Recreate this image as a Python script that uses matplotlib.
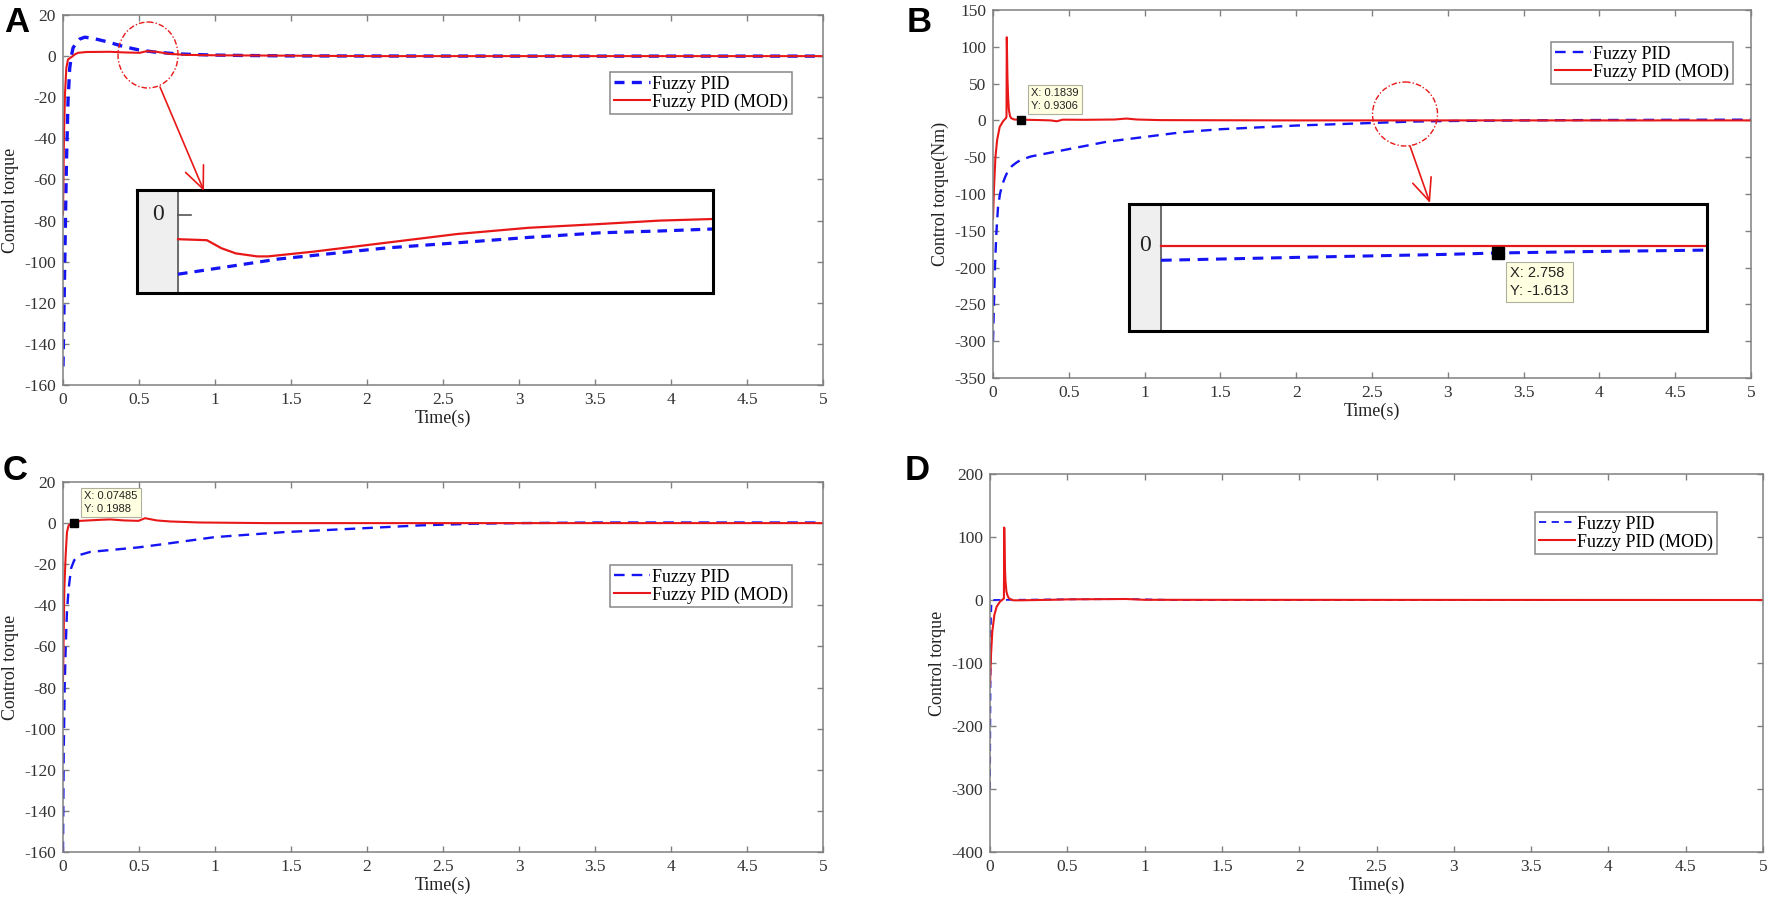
import matplotlib
matplotlib.use('Agg')
import matplotlib.pyplot as plt
from matplotlib.patches import Ellipse
from matplotlib.ticker import FuncFormatter

plt.rcParams['font.family'] = ['Liberation Serif', 'DejaVu Serif']
plt.rcParams['axes.unicode_minus'] = False

W, H = 1772, 905

# ---- data ----
time_ticks = [0, 0.5, 1, 1.5, 2, 2.5, 3, 3.5, 4, 4.5, 5]
labels = ['Fuzzy PID', 'Fuzzy PID (MOD)']

# panel A
a_t_pid = [0, 0.011, 0.022, 0.033, 0.044, 0.055, 0.066, 0.088, 0.11, 0.143, 0.2, 0.3,
           0.4, 0.5, 0.6, 0.75, 0.9, 1.0, 1.2, 1.5, 2.0, 3.0, 4.0, 5.0]
a_pid = [-151, -103, -54, -22, -6, 0, 4, 6.5, 8.3, 9.2, 8.6, 6.8,
         4.6, 3.0, 2.0, 1.1, 0.7, 0.5, 0.3, 0.1, 0.05, 0, 0, 0]
a_t_mod = [0, 0.0066, 0.013, 0.022, 0.033, 0.055, 0.077, 0.099, 0.154, 0.31, 0.4,
           0.505, 0.55, 0.615, 0.70, 0.81, 1.01, 1.5, 2.0, 5.0]
a_mod = [-77, -38, -18.6, -5.7, -1.6, -0.5, 0.8, 1.6, 2.0, 2.1, 1.8,
         1.6, 2.4, 2.1, 1.1, 0.6, 0.4, 0.2, 0, 0]
a_yticks = [-160, -140, -120, -100, -80, -60, -40, -20, 0, 20]

# zoomed view in panel A
ia_x_mod = [0, 0.054, 0.081, 0.108, 0.148, 0.168, 0.254, 0.388, 0.522, 0.655, 0.789, 0.90, 1.0]
ia_mod = [-1.21, -1.26, -1.66, -1.92, -2.07, -2.07, -1.83, -1.39, -0.95, -0.64, -0.45, -0.28, -0.2]
ia_x_pid = [0, 0.188, 0.388, 0.522, 0.655, 0.789, 0.90, 1.0]
ia_pid = [-2.96, -2.2, -1.65, -1.39, -1.12, -0.89, -0.8, -0.7]

# panel B
b_t_pid = [0, 0.007, 0.013, 0.022, 0.033, 0.046, 0.06, 0.08, 0.1, 0.125, 0.15, 0.18, 0.25,
           0.35, 0.5, 0.75, 1.0, 1.25, 1.5, 2.0, 2.5, 2.758, 3.0, 3.5, 4.0, 4.5, 5.0]
b_pid = [-300, -244, -199, -154, -118, -100, -88, -77, -68, -62, -58, -54, -49,
         -45, -39, -29, -22.5, -16, -12, -7, -3.5, -1.613, -0.8, 0, 0.5, 0.8, 1.0]
b_t_mod = [0, 0.007, 0.016, 0.027, 0.044, 0.067, 0.085, 0.089, 0.091, 0.095, 0.1, 0.105,
           0.112, 0.12, 0.14, 0.1839, 0.3, 0.38, 0.42, 0.46, 0.6, 0.8, 0.88, 0.95, 1.1,
           1.5, 2.0, 5.0]
b_mod = [-133.5, -90, -50, -27, -9, -1, 3, 5, 113, 60, 30, 14,
         6, 3, 1.2, 0.9306, 0.5, 0, -1.2, 1, 0.8, 1.2, 2.5, 1.2, 0.4,
         0.2, 0, 0]
b_yticks = [-350, -300, -250, -200, -150, -100, -50, 0, 50, 100, 150]

# zoomed view in panel B
ib_t_mod = [2.4, 2.98]
ib_mod = [0, 0]
ib_t_pid = [2.4, 2.55, 2.7, 2.758, 2.85, 2.98]
ib_pid = [-3.3, -2.6, -1.95, -1.613, -1.3, -0.95]

# panel C
c_t_pid = [0, 0.0044, 0.011, 0.0175, 0.026, 0.037, 0.053, 0.074, 0.114, 0.18, 0.354,
           0.497, 0.683, 1.0, 1.45, 2.0, 2.35, 2.7, 3.0, 3.5, 4.0, 5.0]
c_pid = [-160, -113, -80, -61, -43, -32, -22, -18, -15.4, -14, -12.8,
         -11.8, -10, -6.8, -4.4, -2.4, -1.1, -0.3, 0, 0.3, 0.3, 0.3]
c_t_mod = [0, 0.0088, 0.0175, 0.026, 0.037, 0.053, 0.07485, 0.114, 0.245, 0.31, 0.40,
           0.497, 0.54, 0.617, 0.705, 0.90, 1.34, 5.0]
c_mod = [-77, -32, -15.7, -4.4, -1.1, -0.3, 0.1988, 1.1, 1.6, 1.8, 1.3,
         1.1, 2.4, 1.3, 0.8, 0.3, 0, 0]
c_yticks = a_yticks

# panel D
d_t_pid = [0, 0.002, 0.004, 0.006, 0.01, 0.02, 0.45, 0.9, 1.2, 5.0]
d_pid = [-300, -200, -100, -30, -5, 0, 1, 1.5, 0, 0]
d_t_mod = [0, 0.0065, 0.015, 0.028, 0.043, 0.0645, 0.086, 0.09, 0.092, 0.096, 0.1,
           0.106, 0.112, 0.12, 0.13, 0.15, 0.194, 0.43, 0.5, 0.88, 1.0, 5.0]
d_mod = [-135, -87, -50, -24, -10.6, -2.6, 1.6, 2.6, 115, 55, 30,
         14, 8, 3.5, 1.6, -0.5, -0.5, 0.5, 1, 1.6, 0.3, 0]
d_yticks = [-400, -300, -200, -100, 0, 100, 200]

BLUE = '#1414f5'
RED = '#e81818'
EDGE = '#808080'

fig = plt.figure(figsize=(W / 100, H / 100), dpi=100)


def px_rect(x0, y0, x1, y1):
    return [x0 / W, 1 - y1 / H, (x1 - x0) / W, (y1 - y0) / H]


def style_axes(ax, yticks, ylabel):
    ax.set_xlim(0, 5)
    ax.set_ylim(yticks[0], yticks[-1])
    ax.set_xticks(time_ticks)
    ax.set_yticks(yticks)
    ax.xaxis.set_major_formatter(FuncFormatter(lambda v, p: f'{v:g}'))
    ax.tick_params(direction='in', top=True, right=True, length=4, width=1,
                   color=EDGE, labelcolor='#333333', labelsize=12.5, pad=5)
    for s in ax.spines.values():
        s.set_color(EDGE)
        s.set_linewidth(1.1)
    ax.set_xlabel('Time(s)', fontsize=13, labelpad=1, color='#222222')
    ax.set_ylabel(ylabel, fontsize=13, labelpad=4, color='#222222')


def add_legend(ax, x_right, y_top):
    leg = ax.legend(loc='upper right', bbox_to_anchor=(x_right / W, 1 - y_top / H),
                    bbox_transform=fig.transFigure, fontsize=13, fancybox=False,
                    edgecolor='#888888', framealpha=1, borderpad=0.2, labelspacing=0.05,
                    handlelength=2.0, handletextpad=0.15, borderaxespad=0)
    leg.get_frame().set_linewidth(1.1)


def datatip(ax, x, y, text, dx, dy, fs, va, ms=6):
    ax.plot([x], [y], marker='s', color='black', ms=ms, zorder=5)
    ax.annotate(text, (x, y), xytext=(dx, dy), textcoords='offset pixels',
                fontsize=fs, family=['Liberation Sans', 'DejaVu Sans'], color='#222222',
                ha='left', va=va, linespacing=1.35, zorder=6,
                bbox=dict(boxstyle='square,pad=0.3', fc='#ffffe1', ec='#b0b0a0', lw=0.8))


def add_inset(x0, y0, x1, x_axis, y1, xlim, ylim, tick=False):
    ax = fig.add_axes(px_rect(x0, y0, x1, y1))
    ax.set_xlim(xlim)
    ax.set_ylim(ylim)
    ax.set_xticks([])
    ax.set_yticks([])
    for s in ax.spines.values():
        s.set_color('black')
        s.set_linewidth(2.2)
    ax.axvspan(xlim[0], x_axis, color='#efefef', zorder=0)
    ax.axvline(x_axis, color='#555555', lw=1.2)
    ax.text((xlim[0] + x_axis) / 2, 0, '0', ha='center', va='center', fontsize=17,
            color='#222222')
    if tick:
        span = xlim[1] - x_axis
        ax.plot([x_axis, x_axis + 0.025 * span], [0, 0], color='#555555', lw=1.2)
    return ax


# ---- A ----
ax = fig.add_axes(px_rect(63, 15, 823, 385))
ax.plot(a_t_pid, a_pid, color=BLUE, lw=2.4, dashes=(3, 2.2), label=labels[0])
ax.plot(a_t_mod, a_mod, color=RED, lw=1.5, label=labels[1])
style_axes(ax, a_yticks, 'Control torque')
add_legend(ax, 792, 72)

# ---- B ----
ax = fig.add_axes(px_rect(993, 10, 1751, 378))
ax.plot(b_t_pid, b_pid, color=BLUE, lw=1.7, dashes=(4.5, 3), label=labels[0])
ax.plot(b_t_mod, b_mod, color=RED, lw=1.5, label=labels[1])
style_axes(ax, b_yticks, 'Control torque(Nm)')
add_legend(ax, 1733, 42)
datatip(ax, b_t_mod[15], b_mod[15], 'X: 0.1839\nY: 0.9306', 10, 9, 8, 'bottom')

# ---- C ----
ax = fig.add_axes(px_rect(63, 482, 823, 852))
ax.plot(c_t_pid, c_pid, color=BLUE, lw=1.7, dashes=(4.5, 3), label=labels[0])
ax.plot(c_t_mod, c_mod, color=RED, lw=1.5, label=labels[1])
style_axes(ax, c_yticks, 'Control torque')
add_legend(ax, 792, 565)
datatip(ax, c_t_mod[6], c_mod[6], 'X: 0.07485\nY: 0.1988', 10, 9, 8, 'bottom')

# ---- D ----
ax = fig.add_axes(px_rect(990, 474, 1763, 852))
ax.plot(d_t_pid, d_pid, color=BLUE, lw=1.3, dashes=(4, 3), label=labels[0])
ax.plot(d_t_mod, d_mod, color=RED, lw=1.5, label=labels[1])
style_axes(ax, d_yticks, 'Control torque')
add_legend(ax, 1717, 512)

# ---- zoomed insets ----
ins = add_inset(137, 190, 713, 0, 293, (-0.0767, 1), (-3.9, 1.25), tick=True)
ins.plot(ia_x_pid, ia_pid, color=BLUE, lw=2.3, dashes=(3, 2.2))
ins.plot(ia_x_mod, ia_mod, color=RED, lw=1.6)

ins = add_inset(1129, 204, 1707, 2.4, 331, (2.366, 2.98), (-19.6, 9.68))
ins.plot(ib_t_pid, ib_pid, color=BLUE, lw=2.2, dashes=(3.5, 2.5))
ins.plot(ib_t_mod, ib_mod, color=RED, lw=1.6)
datatip(ins, ib_t_pid[3], ib_pid[3], 'X: 2.758\nY: -1.613', 12, -13, 10.5, 'top', ms=8)

# ---- overlay: panel letters, circles, arrows ----
ov = fig.add_axes([0, 0, 1, 1])
ov.set_xlim(0, W)
ov.set_ylim(H, 0)
ov.axis('off')
ov.patch.set_alpha(0)

for letter, x, y in [('A', 4, 32), ('B', 907, 32), ('C', 3, 480), ('D', 905, 480)]:
    ov.text(x, y, letter, fontsize=25, fontweight='bold',
            family=['Liberation Sans', 'DejaVu Sans'], ha='left', va='baseline')

for (cx, cy, w, h), (p0, p1) in [((148, 55, 60, 66), ((160, 87), (204, 191))),
                                 ((1405, 114, 65, 64), ((1410, 146), (1430, 203)))]:
    ov.add_patch(Ellipse((cx, cy), w, h, fill=False, ec=RED, lw=1.0,
                         ls=(0, (4, 1.5, 1, 1.5))))
    ov.annotate('', xy=p1, xytext=p0,
                arrowprops=dict(arrowstyle='->,head_length=0.8,head_width=0.35',
                                color=RED, lw=1.2, shrinkA=0, shrinkB=0,
                                mutation_scale=20))

fig.savefig('out.png', dpi=100)
